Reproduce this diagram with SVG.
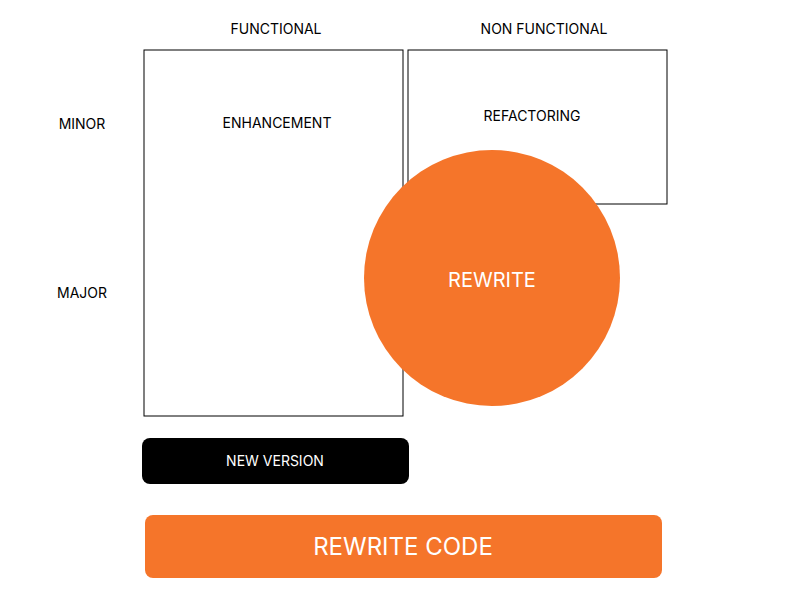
<svg xmlns="http://www.w3.org/2000/svg" width="800" height="600" viewBox="0 0 800 600">
<style>
text{font-family:Inter,"Liberation Sans",sans-serif;font-size:14px;fill:#000;text-anchor:middle}
.box{fill:#fff;stroke:#000;stroke-width:1}
.w{fill:#fff}
</style>
<rect width="800" height="600" fill="#fff"/>
<g id="labels">
<text x="276" y="34">FUNCTIONAL</text>
<text x="544" y="34">NON FUNCTIONAL</text>
<text x="82" y="129">MINOR</text>
<text x="82" y="298">MAJOR</text>
</g>
<g id="enhancement"><rect class="box" x="144" y="50" width="259" height="366"/><text x="277" y="128">ENHANCEMENT</text></g>
<g id="refactoring"><rect class="box" x="408" y="50" width="259" height="154"/><text x="532" y="121">REFACTORING</text></g>
<g id="rewrite"><circle cx="492" cy="278" r="128" fill="#f5752a"/><text class="w" x="492" y="287" style="font-size:20px">REWRITE</text></g>
<g id="newversion"><rect x="142" y="438" width="267" height="46" rx="8" fill="#000"/><text class="w" x="275" y="466">NEW VERSION</text></g>
<g id="rewritecode"><rect x="145" y="515" width="517" height="63" rx="8" fill="#f5752a"/><text class="w" x="403" y="555" style="font-size:24px">REWRITE CODE</text></g>
<g id="connectors"/>
</svg>
